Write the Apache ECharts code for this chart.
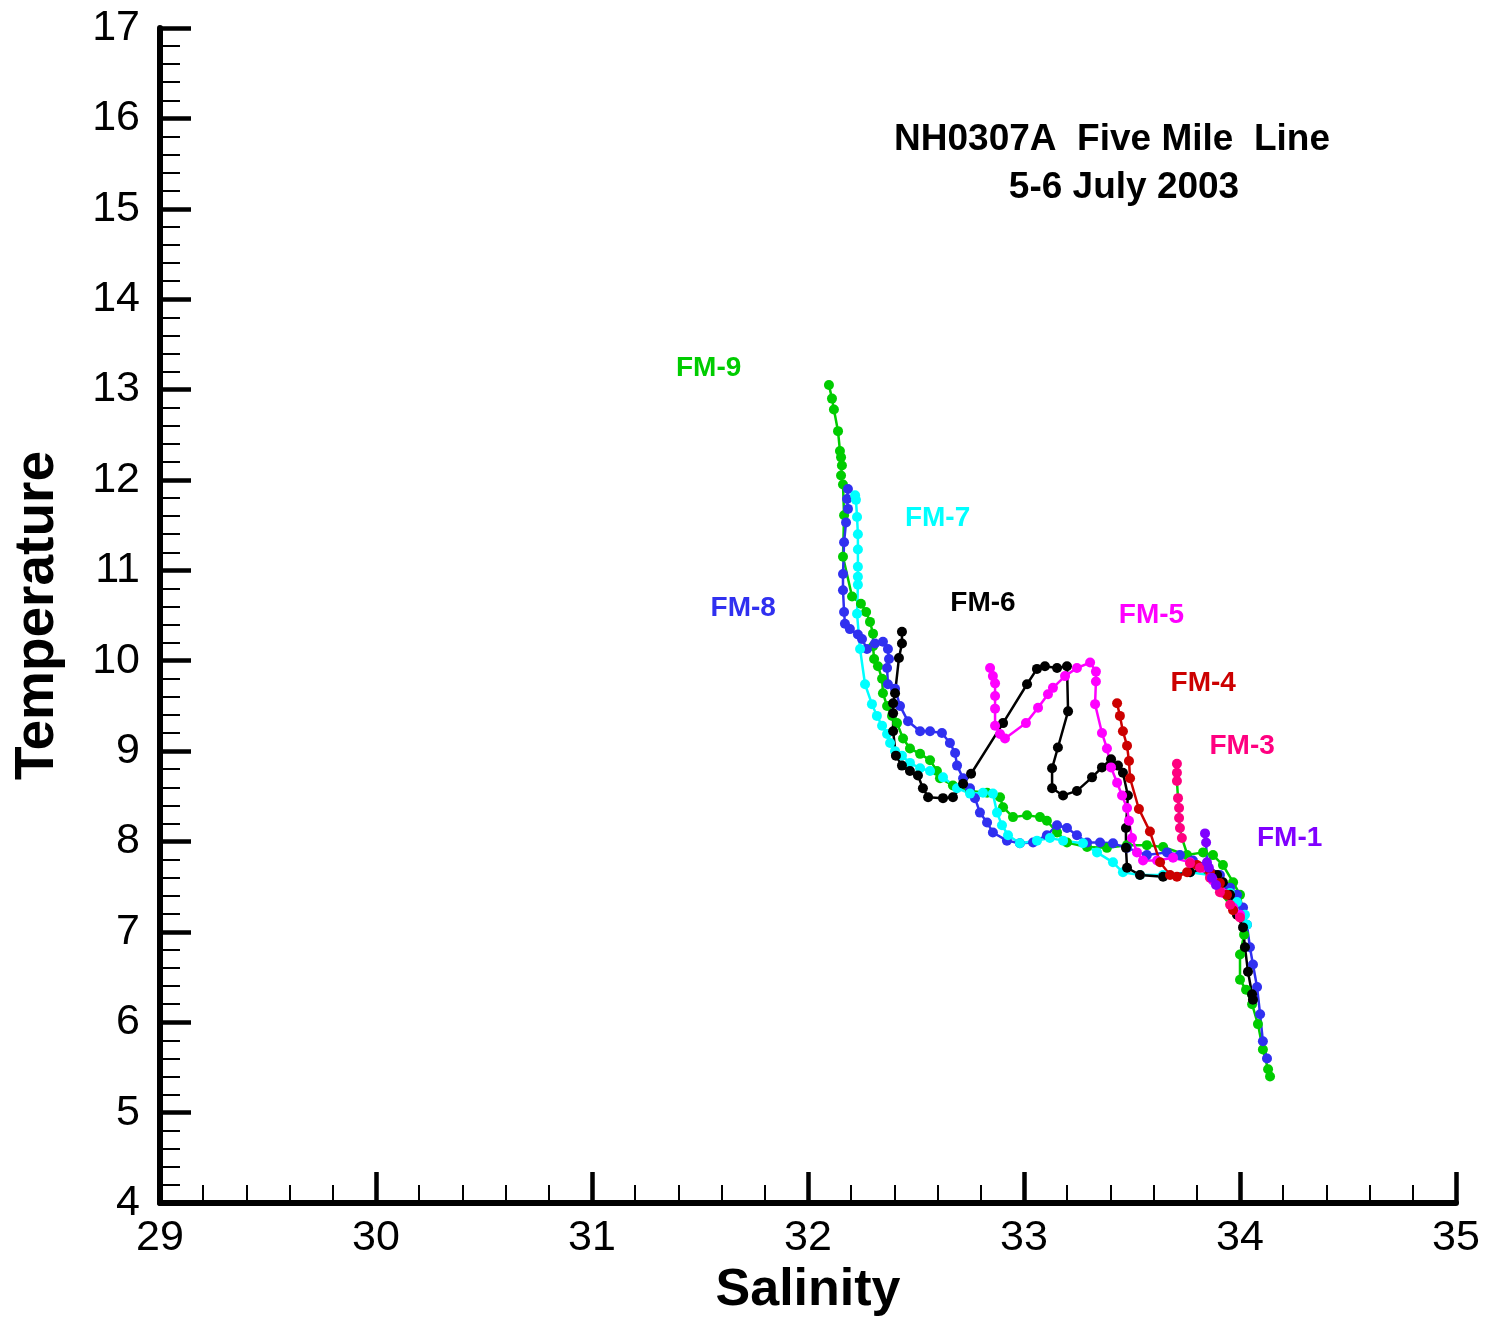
<!DOCTYPE html>
<html>
<head>
<meta charset="utf-8">
<title>NH0307A Five Mile Line T-S</title>
<script src="https://cdn.jsdelivr.net/npm/echarts@6/dist/echarts.min.js"></script>
<style>
  html, body { margin: 0; padding: 0; background: #fff; overflow: hidden; }
  #chart { width: 1485px; height: 1322px; }
</style>
</head>
<body>
<div id="chart"></div>
<script>
// Salinity / temperature profiles, one array pair per station (surface first)
const fm9Sal = [32.097,32.111,32.120,32.139,32.148,32.153,32.157,32.153,32.162,32.167,32.162,32.204,32.245,32.269,32.287,32.301,32.301,32.306,32.324,32.343,32.347,32.366,32.389,32.412,32.440,32.472,32.519,32.565,32.597,32.611,32.671,32.750,32.829,32.889,32.903,32.949,33.014,33.074,33.106,33.153,33.199,33.292,33.384,33.477,33.569,33.644,33.755,33.829,33.875,33.921,33.968,34.000,34.014,34.019,34.000,34.000,34.028,34.056,34.083,34.106,34.130,34.139];
const fm9Temp = [13.05,12.90,12.78,12.54,12.32,12.25,12.16,12.05,11.95,11.61,11.15,10.71,10.63,10.54,10.43,10.30,10.16,10.02,9.94,9.80,9.64,9.50,9.39,9.31,9.14,9.03,8.97,8.90,8.78,8.70,8.62,8.56,8.54,8.49,8.38,8.27,8.29,8.27,8.23,8.10,7.99,7.94,7.93,7.96,7.96,7.94,7.85,7.88,7.85,7.74,7.55,7.41,7.19,6.97,6.75,6.47,6.36,6.20,5.98,5.70,5.48,5.40];

const fm8Sal = [32.185,32.181,32.185,32.176,32.167,32.162,32.162,32.167,32.171,32.194,32.231,32.250,32.273,32.310,32.347,32.370,32.375,32.366,32.370,32.403,32.426,32.463,32.519,32.565,32.620,32.657,32.681,32.690,32.718,32.750,32.773,32.796,32.829,32.856,32.921,32.981,33.042,33.106,33.153,33.199,33.245,33.292,33.352,33.412,33.477,33.569,33.662,33.722,33.782,33.847,33.907,33.954,33.986,34.014,34.032,34.046,34.060,34.079,34.093,34.106,34.125];
const fm8Temp = [11.90,11.79,11.68,11.53,11.31,10.96,10.78,10.54,10.41,10.35,10.29,10.24,10.13,10.19,10.21,10.13,10.02,9.92,9.74,9.69,9.50,9.33,9.22,9.22,9.20,9.09,8.98,8.84,8.70,8.59,8.48,8.32,8.21,8.10,8.01,7.98,7.99,8.07,8.18,8.15,8.07,7.99,7.99,7.98,7.93,7.85,7.88,7.85,7.79,7.74,7.63,7.49,7.41,7.27,7.08,6.83,6.64,6.39,6.09,5.79,5.60];

const fm7Sal = [32.218,32.222,32.227,32.231,32.231,32.231,32.231,32.231,32.227,32.241,32.264,32.296,32.319,32.343,32.366,32.380,32.403,32.435,32.472,32.519,32.565,32.625,32.690,32.750,32.810,32.856,32.875,32.898,32.926,32.981,33.060,33.120,33.181,33.273,33.338,33.412,33.458,33.537,33.644,33.769,33.861,33.907,33.954,33.986,34.023,34.032];
const fm7Temp = [11.83,11.78,11.59,11.40,11.23,11.04,10.93,10.84,10.52,10.13,9.74,9.52,9.39,9.28,9.19,9.09,9.00,8.95,8.87,8.81,8.78,8.71,8.59,8.53,8.54,8.53,8.32,8.18,8.07,7.98,8.01,8.04,8.01,7.98,7.88,7.77,7.66,7.63,7.63,7.66,7.63,7.55,7.43,7.33,7.19,7.08];

const fm6Sal = [32.435,32.435,32.421,32.403,32.394,32.394,32.394,32.407,32.435,32.472,32.509,32.532,32.556,32.625,32.671,32.718,32.755,32.903,33.014,33.060,33.097,33.153,33.199,33.204,33.157,33.130,33.130,33.181,33.245,33.315,33.361,33.403,33.435,33.458,33.481,33.472,33.472,33.477,33.537,33.644,33.769,33.847,33.894,33.921,33.954,33.986,34.014,34.023,34.037,34.056,34.060];
const fm6Temp = [10.32,10.19,10.03,9.64,9.53,9.42,9.22,8.95,8.84,8.78,8.73,8.59,8.49,8.48,8.49,8.64,8.75,9.31,9.74,9.91,9.94,9.92,9.94,9.44,9.04,8.81,8.59,8.51,8.56,8.71,8.82,8.91,8.84,8.76,8.51,8.15,7.93,7.71,7.63,7.61,7.66,7.71,7.63,7.55,7.41,7.19,7.05,6.83,6.56,6.31,6.25];

const fm5Sal = [32.843,32.856,32.866,32.866,32.866,32.866,32.889,32.912,33.009,33.065,33.111,33.134,33.190,33.245,33.306,33.333,33.333,33.329,33.361,33.384,33.403,33.431,33.454,33.477,33.486,33.500,33.523,33.551,33.616,33.690,33.769,33.829,33.875,33.921,33.968,34.000];
const fm5Temp = [9.92,9.83,9.75,9.61,9.47,9.28,9.19,9.14,9.31,9.48,9.63,9.70,9.83,9.92,9.98,9.88,9.77,9.52,9.20,9.03,8.82,8.65,8.51,8.37,8.23,8.04,7.88,7.79,7.79,7.82,7.77,7.71,7.57,7.43,7.27,7.19];

const fm4Sal = [33.431,33.444,33.458,33.477,33.486,33.491,33.532,33.583,33.630,33.676,33.708,33.755,33.801,33.861,33.907,33.940,33.968];
const fm4Temp = [9.53,9.39,9.22,9.06,8.89,8.70,8.36,8.11,7.77,7.63,7.61,7.66,7.74,7.66,7.54,7.41,7.24];

const fm3Sal = [33.708,33.708,33.708,33.713,33.718,33.718,33.722,33.731,33.769,33.815,33.861,33.907,33.954,34.000];
const fm3Temp = [8.86,8.76,8.67,8.48,8.37,8.26,8.15,8.04,7.76,7.71,7.60,7.44,7.30,7.16];

const fm1Sal = [33.838,33.843,33.847,33.856,33.870,33.889];
const fm1Temp = [8.09,7.99,7.77,7.71,7.60,7.52];

// Station name tags, anchored in salinity / temperature units
const tagNames = ['FM-9','FM-7','FM-8','FM-6','FM-5','FM-4','FM-3','FM-1'];
const tagSal   = [31.54, 32.60, 31.70, 32.81, 33.59, 33.83, 34.01, 34.23];
const tagTemp  = [13.23, 11.58, 10.58, 10.64, 10.50, 9.75, 9.05, 8.04];

// Axis ranges and tick steps
const salRange = [29, 35];
const tempRange = [4, 17];
const majorStep = 1;

const FONT = '"Liberation Sans", Arial, Helvetica, sans-serif';
const colors = {
  'FM-9': '#00cc00',
  'FM-8': '#3030f0',
  'FM-7': '#00ffff',
  'FM-6': '#000000',
  'FM-5': '#ff00ff',
  'FM-4': '#cc0000',
  'FM-3': '#ff0080',
  'FM-1': '#8000ff'
};

function pairs(s, t) { return s.map((v, i) => [v, t[i]]); }

function station(name, s, t, lineColor) {
  return {
    name: name,
    type: 'line',
    data: pairs(s, t),
    symbol: 'circle',
    symbolSize: 10,
    showSymbol: true,
    clip: false,
    silent: true,
    animation: false,
    itemStyle: { color: colors[name], opacity: 1 },
    lineStyle: { color: lineColor || colors[name], width: 2.5 }
  };
}

const el = document.getElementById('chart');
const chart = echarts.init(el, null, { renderer: 'canvas', width: 1485, height: 1322 });

const option = {
  backgroundColor: '#ffffff',
  animation: false,
  grid: { left: 160, right: 29, top: 28, bottom: 112, containLabel: false },
  xAxis: {
    type: 'value',
    min: salRange[0], max: salRange[1], interval: majorStep,
    name: 'Salinity',
    nameLocation: 'middle',
    nameGap: 56,
    nameTextStyle: { fontFamily: FONT, fontSize: 52, fontWeight: 'bold', color: '#000' },
    axisLine: { show: true, onZero: false, lineStyle: { color: '#000', width: 6 } },
    axisTick: { show: true, inside: true, length: 31, lineStyle: { color: '#000', width: 4.5 } },
    minorTick: { show: true, splitNumber: 5, length: 18, lineStyle: { color: '#000', width: 2 } },
    axisLabel: { fontFamily: FONT, fontSize: 43, color: '#000', margin: 14 },
    splitLine: { show: false },
    minorSplitLine: { show: false }
  },
  yAxis: {
    type: 'value',
    min: tempRange[0], max: tempRange[1], interval: majorStep,
    name: 'Temperature',
    nameLocation: 'middle',
    nameGap: 95,
    nameRotate: 90,
    nameTextStyle: { fontFamily: FONT, fontSize: 55, fontWeight: 'bold', color: '#000' },
    axisLine: { show: true, onZero: false, lineStyle: { color: '#000', width: 6 } },
    axisTick: { show: true, inside: true, length: 31, lineStyle: { color: '#000', width: 4.5 } },
    minorTick: { show: true, splitNumber: 5, length: 20, lineStyle: { color: '#000', width: 2 } },
    axisLabel: { fontFamily: FONT, fontSize: 43, color: '#000', margin: 20 },
    splitLine: { show: false },
    minorSplitLine: { show: false }
  },
  series: [
    station('FM-9', fm9Sal, fm9Temp),
    station('FM-8', fm8Sal, fm8Temp),
    station('FM-7', fm7Sal, fm7Temp),
    station('FM-6', fm6Sal, fm6Temp),
    station('FM-5', fm5Sal, fm5Temp),
    station('FM-4', fm4Sal, fm4Temp),
    station('FM-3', fm3Sal, fm3Temp, '#00cc00'),
    station('FM-1', fm1Sal, fm1Temp, '#3030f0'),
    {
      name: 'tags',
      type: 'scatter',
      symbolSize: 0,
      silent: true,
      animation: false,
      clip: false,
      itemStyle: { opacity: 1 },
      data: tagNames.map((n, i) => ({
        value: [tagSal[i], tagTemp[i]],
        name: n,
        label: { color: colors[n] }
      })),
      label: {
        show: true,
        position: 'inside',
        formatter: p => p.name,
        fontFamily: FONT,
        fontSize: 28,
        fontWeight: 'bold',
        opacity: 1
      }
    }
  ],
  graphic: [
    {
      type: 'text', x: 1112, y: 140, silent: true,
      style: { text: 'NH0307A  Five Mile  Line', font: 'bold 37px ' + FONT, fill: '#000', textAlign: 'center', textVerticalAlign: 'middle' }
    },
    {
      type: 'text', x: 1124, y: 188, silent: true,
      style: { text: '5-6 July 2003', font: 'bold 37px ' + FONT, fill: '#000', textAlign: 'center', textVerticalAlign: 'middle' }
    }
  ]
};

chart.setOption(option);
</script>
</body>
</html>
